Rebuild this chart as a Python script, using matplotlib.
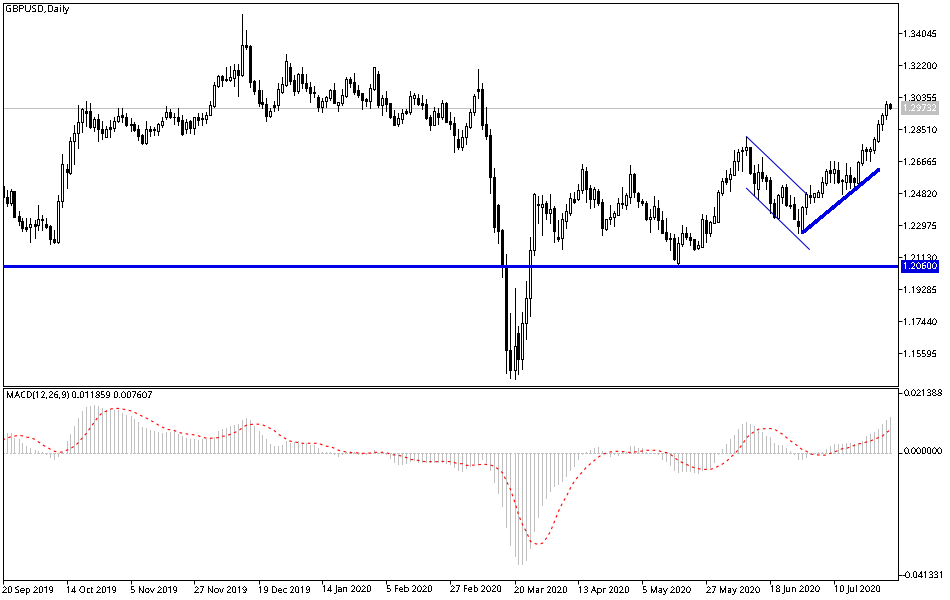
import numpy as np
import matplotlib
matplotlib.use("Agg")
import matplotlib.pyplot as plt
from matplotlib.transforms import blended_transform_factory, ScaledTranslation

plt.rcParams['font.family'] = ['Noto Sans', 'DejaVu Sans']
plt.rcParams['font.size'] = 6.55
plt.rcParams['text.antialiased'] = False
plt.rcParams['text.hinting'] = 'native'

title = "GBPUSD,Daily"
macd_title = "MACD(12,26,9) 0.011859 0.007607"
date_labels = ["20 Sep 2019", "14 Oct 2019", "5 Nov 2019", "27 Nov 2019", "19 Dec 2019",
               "14 Jan 2020", "5 Feb 2020", "27 Feb 2020", "20 Mar 2020", "13 Apr 2020",
               "5 May 2020", "27 May 2020", "18 Jun 2020", "10 Jul 2020"]
price_ticks = [1.34045, 1.32200, 1.30355, 1.28510, 1.26665, 1.24820,
               1.22975, 1.21130, 1.19285, 1.17440, 1.15595]
last_price = 1.29732
support = 1.20600
macd_top = 0.021388
macd_bottom = -0.041331

highs = [
1.2525,1.2501,1.2505,1.2498,1.2382,1.2338,1.2338,1.2338,1.2329,1.2413,
1.2357,1.2338,1.2300,1.2271,1.2473,1.2709,1.2651,1.2805,1.2878,1.2990,
1.2974,1.3013,1.3001,1.2920,1.2940,1.2901,1.2870,1.2905,1.2924,1.2972,
1.2972,1.2944,1.2915,1.2894,1.2876,1.2824,1.2897,1.2870,1.2867,1.2890,
1.2920,1.2986,1.2970,1.2944,1.2974,1.2936,1.2913,1.2905,1.2924,1.2947,
1.2944,1.2953,1.3013,1.3124,1.3166,1.3166,1.3213,1.3216,1.3228,1.3228,
1.3516,1.3424,1.3336,1.3136,1.3136,1.3078,1.3030,1.2972,1.3013,1.3116,
1.3151,1.3286,1.3232,1.3165,1.3174,1.3209,1.3170,1.3124,1.3101,1.3047,
1.3030,1.3043,1.3086,1.3116,1.3011,1.3082,1.3151,1.3151,1.3174,1.3105,
1.3063,1.3032,1.3113,1.3209,1.3186,1.3049,1.3070,1.3001,1.2963,1.2944,
1.2967,1.2970,1.3070,1.3063,1.3055,1.3047,1.3024,1.2932,1.2982,1.2972,
1.3020,1.3009,1.2951,1.2920,1.2855,1.2847,1.2886,1.2967,1.3055,1.3197,
1.3116,1.2978,1.2851,1.2628,1.2421,1.2275,1.2132,1.1790,1.1934,1.1717,
1.1798,1.1975,1.2228,1.2482,1.2467,1.2473,1.2436,1.2478,1.2409,1.2328,
1.2371,1.2421,1.2482,1.2492,1.2536,1.2651,1.2632,1.2528,1.2521,1.2505,
1.2448,1.2336,1.2413,1.2382,1.2455,1.2521,1.2482,1.2644,1.2598,1.2490,
1.2448,1.2436,1.2390,1.2467,1.2444,1.2378,1.2340,1.2252,1.2248,1.2232,
1.2300,1.2290,1.2255,1.2221,1.2205,1.2363,1.2357,1.2325,1.2401,1.2501,
1.2569,1.2617,1.2626,1.2730,1.2736,1.2751,1.2809,1.2751,1.2646,1.2651,
1.2690,1.2586,1.2574,1.2448,1.2478,1.2532,1.2536,1.2471,1.2459,1.2390,
1.2409,1.2490,1.2530,1.2486,1.2501,1.2574,1.2624,1.2667,1.2671,1.2665,
1.2563,1.2655,1.2632,1.2578,1.2667,1.2767,1.2747,1.2747,1.2809,1.2905,
1.2947,1.3013,1.3001]

lows = [
1.2463,1.2409,1.2413,1.2348,1.2298,1.2267,1.2267,1.2204,1.2223,1.2271,
1.2271,1.2280,1.2190,1.2194,1.2198,1.2405,1.2513,1.2594,1.2651,1.2744,
1.2838,1.2870,1.2859,1.2840,1.2786,1.2797,1.2809,1.2805,1.2844,1.2895,
1.2895,1.2870,1.2844,1.2844,1.2790,1.2767,1.2767,1.2813,1.2819,1.2817,
1.2867,1.2909,1.2917,1.2882,1.2878,1.2820,1.2828,1.2832,1.2824,1.2878,
1.2878,1.2890,1.2932,1.2978,1.3097,1.3101,1.3128,1.3132,1.3101,1.3043,
1.3159,1.3316,1.3097,1.3055,1.2986,1.2974,1.2901,1.2920,1.2959,1.2963,
1.3063,1.3101,1.3113,1.3049,1.3063,1.3090,1.3074,1.3011,1.3040,1.2959,
1.2951,1.2982,1.3020,1.3001,1.2959,1.2994,1.3036,1.3093,1.3055,1.3040,
1.2970,1.2986,1.2974,1.3078,1.2982,1.2936,1.2955,1.2917,1.2876,1.2870,
1.2890,1.2940,1.2940,1.2997,1.2990,1.2967,1.2909,1.2847,1.2874,1.2882,
1.2913,1.2893,1.2855,1.2721,1.2736,1.2732,1.2767,1.2861,1.2934,1.3032,
1.2853,1.2794,1.2486,1.2261,1.2198,1.2002,1.1448,1.1417,1.1410,1.1440,
1.1471,1.1640,1.1775,1.2127,1.2313,1.2244,1.2332,1.2309,1.2202,1.2209,
1.2163,1.2282,1.2355,1.2428,1.2444,1.2486,1.2432,1.2398,1.2405,1.2417,
1.2244,1.2271,1.2305,1.2294,1.2355,1.2398,1.2390,1.2428,1.2463,1.2405,
1.2413,1.2328,1.2259,1.2332,1.2278,1.2252,1.2209,1.2155,1.2098,1.2063,
1.2179,1.2221,1.2182,1.2155,1.2163,1.2171,1.2203,1.2236,1.2313,1.2315,
1.2473,1.2536,1.2496,1.2586,1.2617,1.2613,1.2703,1.2594,1.2471,1.2448,
1.2555,1.2509,1.2371,1.2340,1.2332,1.2425,1.2409,1.2396,1.2332,1.2252,
1.2252,1.2363,1.2425,1.2434,1.2459,1.2463,1.2532,1.2549,1.2544,1.2540,
1.2478,1.2509,1.2511,1.2517,1.2536,1.2646,1.2674,1.2667,1.2717,1.2780,
1.2847,1.2909,1.2967]

opens = [
1.2525,1.2463,1.2428,1.2494,1.2352,1.2321,1.2286,1.2286,1.2304,1.2298,
1.2332,1.2304,1.2294,1.2217,1.2204,1.2436,1.2621,1.2601,1.2782,1.2828,
1.2892,1.2957,1.2957,1.2867,1.2909,1.2851,1.2809,1.2863,1.2861,1.2897,
1.2932,1.2924,1.2882,1.2880,1.2851,1.2819,1.2771,1.2851,1.2851,1.2844,
1.2878,1.2920,1.2949,1.2924,1.2920,1.2903,1.2851,1.2899,1.2859,1.2920,
1.2915,1.2909,1.2936,1.2986,1.3103,1.3157,1.3140,1.3136,1.3149,1.3193,
1.3163,1.3338,1.3332,1.3130,1.3078,1.3009,1.2997,1.2930,1.2990,1.2990,
1.3067,1.3107,1.3211,1.3136,1.3070,1.3170,1.3116,1.3093,1.3067,1.3038,
1.2982,1.3013,1.3034,1.3078,1.2994,1.3005,1.3045,1.3141,1.3122,1.3076,
1.3059,1.3026,1.3017,1.3084,1.3170,1.2994,1.3030,1.3001,1.2926,1.2882,
1.2913,1.2955,1.2953,1.3034,1.3032,1.3003,1.2995,1.2922,1.2878,1.2944,
1.2924,1.3001,1.2897,1.2886,1.2794,1.2751,1.2809,1.2865,1.2953,1.3082,
1.3082,1.2880,1.2817,1.2574,1.2415,1.2271,1.2056,1.1579,1.1464,1.1675,
1.1529,1.1733,1.1877,1.2154,1.2421,1.2401,1.2426,1.2371,1.2398,1.2228,
1.2227,1.2325,1.2371,1.2448,1.2451,1.2500,1.2609,1.2511,1.2451,1.2496,
1.2430,1.2275,1.2332,1.2344,1.2359,1.2426,1.2417,1.2463,1.2594,1.2482,
1.2440,1.2428,1.2336,1.2344,1.2396,1.2328,1.2257,1.2223,1.2223,1.2082,
1.2190,1.2252,1.2232,1.2217,1.2169,1.2175,1.2328,1.2255,1.2313,1.2319,
1.2486,1.2569,1.2567,1.2590,1.2669,1.2730,1.2730,1.2749,1.2598,1.2509,
1.2605,1.2576,1.2559,1.2425,1.2340,1.2463,1.2521,1.2417,1.2421,1.2321,
1.2255,1.2401,1.2471,1.2463,1.2459,1.2486,1.2540,1.2615,1.2601,1.2617,
1.2559,1.2548,1.2588,1.2572,1.2540,1.2659,1.2740,1.2728,1.2732,1.2786,
1.2880,1.2932,1.2997]

closes = [
1.2463,1.2428,1.2494,1.2348,1.2321,1.2282,1.2277,1.2304,1.2296,1.2332,
1.2327,1.2290,1.2217,1.2204,1.2436,1.2649,1.2607,1.2782,1.2828,1.2892,
1.2967,1.2947,1.2867,1.2909,1.2851,1.2828,1.2855,1.2855,1.2897,1.2926,
1.2924,1.2876,1.2876,1.2847,1.2813,1.2774,1.2851,1.2844,1.2846,1.2882,
1.2897,1.2949,1.2924,1.2920,1.2901,1.2824,1.2895,1.2859,1.2920,1.2905,
1.2909,1.2936,1.2990,1.3105,1.3157,1.3134,1.3134,1.3151,1.3193,1.3163,
1.3336,1.3328,1.3126,1.3074,1.3005,1.2999,1.2930,1.2957,1.2982,1.3082,
1.3111,1.3243,1.3132,1.3074,1.3170,1.3120,1.3092,1.3063,1.3063,1.2982,
1.3013,1.3036,1.3078,1.3005,1.3007,1.3047,1.3141,1.3120,1.3067,1.3049,
1.3022,1.3017,1.3088,1.3209,1.2990,1.3030,1.2999,1.2922,1.2878,1.2915,
1.2947,1.2944,1.3042,1.3047,1.2997,1.2994,1.2917,1.2878,1.2955,1.2924,
1.3001,1.2895,1.2882,1.2820,1.2747,1.2809,1.2869,1.2951,1.3041,1.3074,
1.2878,1.2813,1.2574,1.2290,1.2267,1.2059,1.1579,1.1464,1.1602,1.1529,
1.1733,1.1877,1.2154,1.2476,1.2417,1.2419,1.2371,1.2392,1.2267,1.2221,
1.2332,1.2378,1.2453,1.2434,1.2500,1.2621,1.2509,1.2451,1.2505,1.2428,
1.2284,1.2332,1.2344,1.2367,1.2428,1.2423,1.2471,1.2592,1.2492,1.2440,
1.2426,1.2336,1.2348,1.2409,1.2328,1.2255,1.2221,1.2217,1.2102,1.2194,
1.2252,1.2232,1.2213,1.2163,1.2182,1.2332,1.2252,1.2317,1.2351,1.2490,
1.2551,1.2548,1.2592,1.2669,1.2720,1.2724,1.2747,1.2601,1.2540,1.2603,
1.2572,1.2555,1.2425,1.2344,1.2471,1.2517,1.2415,1.2409,1.2336,1.2294,
1.2401,1.2480,1.2459,1.2482,1.2490,1.2546,1.2613,1.2601,1.2621,1.2549,
1.2551,1.2588,1.2549,1.2546,1.2663,1.2732,1.2724,1.2740,1.2795,1.2882,
1.2934,1.2997,1.29732]

macd_hist = [
.00449,.00668,.00668,.00504,.00449,.00317,.00230,.00164,.00099,.00066,
.00033,-.00044,-.00131,-.00186,-.00088,.00033,.00394,.00635,.00887,.01128,
.01379,.01511,.01544,.01565,.01544,.01456,.01412,.01434,.01390,.01390,
.01303,.01237,.01215,.01106,.00996,.00854,.00832,.00755,.00712,.00690,
.00668,.00690,.00701,.00723,.00635,.00558,.00504,.00471,.00471,.00427,
.00449,.00449,.00504,.00536,.00723,.00777,.00821,.00887,.00909,.00941,
.01084,.01149,.01073,.00887,.00723,.00580,.00449,.00285,.00230,.00230,
.00252,.00394,.00339,.00361,.00394,.00339,.00317,.00274,.00252,.00175,
.00044,.00022,.00022,-.00022,-.00088,-.00044,.00044,.00066,.00044,-.00022,
-.00044,-.00022,0,.00099,0,0,-.00044,-.00153,-.00285,-.00350,
-.00350,-.00328,-.00263,-.00241,-.00307,-.00285,-.00307,-.00285,-.00285,-.00285,
-.00285,-.00328,-.00372,-.00460,-.00547,-.00591,-.00504,-.00416,-.00328,-.00372,
-.00197,-.00285,-.00547,-.00941,-.01303,-.01730,-.02419,-.03021,-.03350,-.03634,
-.03634,-.03503,-.03109,-.02562,-.02102,-.01708,-.01467,-.01226,-.01095,-.01029,
-.00920,-.00744,-.00569,-.00416,-.00197,-.00022,.00044,.00109,.00175,.00197,
.00066,0,-.00099,-.00044,-.00066,.00022,.00044,
.00230,.00230,.00175,.00175,.00033,.00011,.00011,-.00044,-.00186,-.00263,
-.00383,-.00558,-.00624,-.00591,-.00591,-.00591,-.00624,-.00646,-.00558,-.00515,
-.00460,-.00296,-.00022,.00120,.00285,.00449,.00580,.00799,.00941,.01018,
.00952,.00887,.00777,.00690,.00558,.00525,.00317,.00252,.00252,.00175,
.00066,-.00044,-.00186,-.00208,-.00120,-.00044,.00011,.00033,.00033,.00142,
.00230,.00285,.00285,.00285,.00317,.00317,.00296,.00317,.00394,.00558,
.00613,.00690,.00799,.00941,.01084,.01186]

macd_signal = [
.00427,.00482,.00525,.00547,.00580,.00558,.00515,.00504,.00449,.00361,
.00263,.00197,.00120,.00055,.00022,.00033,.00088,.00142,.00230,.00339,
.00504,.00646,.00832,.01018,.01193,.01325,.01368,.01434,.01456,.01456,
.01434,.01412,.01379,.01325,.01270,.01193,.01138,.01062,.00996,.00909,
.00843,.00777,.00755,.00733,.00668,.00646,.00624,.00602,.00591,.00558,
.00515,.00482,.00482,.00482,.00504,.00547,.00558,.00613,.00668,.00723,
.00832,.00909,.00930,.00941,.00941,.00920,.00865,.00799,.00723,.00613,
.00525,.00449,.00383,.00361,.00339,.00317,.00317,.00317,.00317,.00317,
.00263,.00219,.00208,.00153,.00088,.00055,.00033,.00011,.00011,0,
-.00011,-.00011,0,.00022,.00022,.00022,.00011,-.00044,-.00066,-.00077,
-.00109,-.00153,-.00208,-.00230,-.00241,-.00274,-.00285,-.00285,-.00285,-.00285,
-.00274,-.00274,-.00285,-.00317,-.00350,-.00350,-.00405,-.00405,-.00394,-.00383,
-.00372,-.00372,-.00394,-.00438,-.00536,-.00646,-.00920,-.01193,-.01576,-.02014,
-.02343,-.02584,-.02890,-.02956,-.02989,-.02945,-.02781,-.02562,-.02233,-.01905,
-.01631,-.01412,-.01138,-.00920,-.00755,-.00613,-.00460,-.00350,-.00241,-.00131,
-.00044,0,.00033,.00055,.00055,.00044,.00033,
.00011,.00033,.00044,.00066,.00088,.00088,.00088,.00077,.00033,.00011,
-.00044,-.00153,-.00252,-.00317,-.00372,-.00438,-.00482,-.00515,-.00536,-.00536,
-.00536,-.00493,-.00427,-.00361,-.00274,-.00142,-.00033,.00120,.00285,.00493,
.00613,.00701,.00777,.00788,.00799,.00799,.00777,.00690,.00613,.00504,
.00394,.00307,.00208,.00099,.00055,-.00033,-.00055,-.00066,-.00077,-.00066,
-.00011,.00033,.00088,.00142,.00153,.00197,.00252,.00296,.00317,.00361,
.00394,.00449,.00504,.00558,.00668,.00761]

# drawn objects, as (bar index, price) ends
channel_upper = ([186, 201], [1.2809, 1.2478])
channel_lower = ([186, 201.7], [1.2511, 1.2159])
trend_line = ([200, 219], [1.2255, 1.2617])

W, H = 950, 600
PX = 0.72
SILVER = "#C0C0C0"
BLUE = "#0000E6"

x = np.arange(len(opens))
O, Hi, Lo, C = map(np.array, (opens, highs, lows, closes))

fig = plt.figure(figsize=(W / 100, H / 100), dpi=100, facecolor="white")
def frame(l, t, r, b):
    return [l / W, 1 - b / H, (r - l) / W, (b - t) / H]

ax = fig.add_axes(frame(2.5, 2.5, 897.5, 385.5))
ax2 = fig.add_axes(frame(2.5, 387.5, 897.5, 579.5), sharex=ax)

ax.set_xlim(0, 223.75)
ax.set_ylim(1.13739, 1.35821)

ax.axhline(last_price, color=SILVER, lw=PX, antialiased=False, zorder=1)
ax.vlines(x, Lo, Hi, color="black", lw=PX, antialiased=False, zorder=2)
up = C >= O
ax.bar(x, np.abs(C - O), bottom=np.minimum(O, C), width=0.5,
       color=np.where(up, "white", "black"), edgecolor="black",
       linewidth=PX, antialiased=False, zorder=3)
ax.axhline(support, color=BLUE, lw=1.95, antialiased=False, zorder=4)
ax.plot(*channel_upper, color="#0000C8", lw=0.75, zorder=4)
ax.plot(*channel_lower, color="#0000C8", lw=0.75, zorder=4)
ax.plot(*trend_line, color=BLUE, lw=1.7, antialiased=False, zorder=4, solid_capstyle="round")

ax.yaxis.tick_right()
ax.set_yticks(price_ticks, [f"{p:.5f}" for p in price_ticks])
ax.tick_params(axis="y", length=3, width=PX, pad=1)
ax.tick_params(axis="x", bottom=False, labelbottom=False)
ax.text(0.0035, 0.982, title, transform=ax.transAxes, va="center", ha="left", color="black", fontsize=7)

tr = blended_transform_factory(ax.transAxes, ax.transData)
ax.text(1.0061, last_price, f"{last_price:.5f}", transform=tr, color="white", va="center", ha="left",
        clip_on=False, zorder=6, bbox=dict(boxstyle="square,pad=0.25", fc=SILVER, ec=SILVER, lw=0))
ax.text(1.0061, support, f"{support:.5f}", transform=tr, color="white", va="center", ha="left",
        clip_on=False, zorder=6, bbox=dict(boxstyle="square,pad=0.25", fc="#0000DC", ec="#0000DC", lw=0))

ax2.set_ylim(macd_bottom, macd_top)
ax2.vlines(x, 0, macd_hist, color=SILVER, lw=PX, antialiased=False, zorder=1)
ax2.hlines(np.zeros(len(x)), x - 0.25, x + 0.25, color=SILVER, lw=PX, antialiased=False, zorder=1)
ax2.plot(x, macd_signal, color="#FF0000", lw=0.8, ls=(0, (2.4, 3.2)), zorder=2)
ax2.yaxis.tick_right()
step = (macd_top - macd_bottom) / 192 * 5
ax2.set_yticks([macd_top - step, 0, macd_bottom + step],
               [f"{macd_top:.6f}", "0.000000", f"{macd_bottom:.6f}"])
ax2.tick_params(axis="y", length=3, width=PX, pad=1)
zero_label = ax2.get_yticklabels(which="major")[1]
for tick in ax2.yaxis.get_major_ticks()[1:2]:
    tick.label2.set_transform(tick.label2.get_transform() + ScaledTranslation(0, 1.5 / 72, fig.dpi_scale_trans))
ax2.set_xticks(x[::16][:len(date_labels)], date_labels, ha="left")
ax2.tick_params(axis="x", length=3, width=PX, pad=1.5)
ax2.text(0.0035, 0.953, macd_title, transform=ax2.transAxes, va="center", ha="left", color="black")

for a in (ax, ax2):
    for s in a.spines.values():
        s.set_linewidth(PX)
        s.set_color("black")

fig.savefig("out.png", dpi=100, facecolor="white")
